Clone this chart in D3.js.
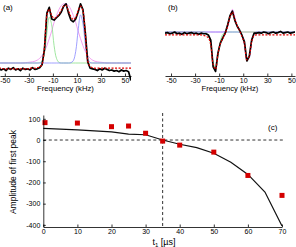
<!DOCTYPE html>
<html>
<head>
<meta charset="utf-8">
<script src="https://cdn.jsdelivr.net/npm/d3@7"></script>
<style>
body{margin:0;background:#fff;}
svg{display:block;font-family:"Liberation Sans",Arial,sans-serif;}
</style>
</head>
<body>
<script>
// frequency grid (kHz) shared by spectra (a) and (b)
var freqs = [-55,-53,-51,-49,-47,-45,-43,-41,-39,-37,-35,-33,-31,-29,-27,-25,-23,-21,
	-19,-17,-15,-13,-11,-9,-7,-5,-3,-1,1,3,5,7,9,11,13,15,17,19,21,23,
	25,27,29,31,33,35,37,39,41,43,45,47,49,51,53,55];
var freqTicks = [-50,-30,-10,10,30,50];

// panel (a)
var aData = [-0.09,-0.12,-0.10,-0.13,-0.09,-0.11,-0.08,-0.12,-0.10,-0.13,-0.09,-0.11,-0.10,-0.12,-0.08,-0.11,-0.10,-0.08,
	-0.03,0.24,0.86,0.96,0.76,0.74,0.78,0.82,0.88,0.98,1.02,0.86,0.74,0.71,0.76,0.88,1.02,0.92,0.52,0.02,-0.09,-0.10,
	-0.11,-0.13,-0.10,-0.12,-0.09,-0.11,-0.13,-0.12,-0.14,-0.13,-0.15,-0.12,-0.14,-0.13,-0.15,-0.30];
var aFit = [-0.09,-0.09,-0.10,-0.10,-0.10,-0.10,-0.10,-0.10,-0.10,-0.10,-0.10,-0.10,-0.10,-0.09,-0.09,-0.09,-0.08,-0.07,
	-0.02,0.28,0.82,0.93,0.82,0.77,0.79,0.84,0.91,0.98,0.99,0.90,0.80,0.75,0.79,0.90,0.98,0.90,0.50,0.04,-0.06,-0.08,
	-0.09,-0.09,-0.09,-0.09,-0.09,-0.09,-0.09,-0.09,-0.09,-0.09,-0.09,-0.09,-0.09,-0.09,-0.09,-0.09];
var aGreen = [0,0,0,0,0,0,0,0,0,0,0,0,0,0,0,0,0,0.005,
	0.03,0.17,0.52,0.79,0.66,0.30,0.08,0.01,0,0,0,0,0,0,0,0,0,0,0,0,0,0,
	0,0,0,0,0,0,0,0,0,0,0,0,0,0,0,0];
var aMagenta = [0,0,0,0,0,0,0,0,0,0,0,0.005,0.01,0.015,0.02,0.03,0.05,0.08,
	0.13,0.20,0.30,0.42,0.55,0.70,0.82,0.92,0.99,1.02,1.02,0.99,0.92,0.82,0.70,0.55,0.42,0.30,0.20,0.13,0.08,0.05,
	0.03,0.02,0.015,0.01,0.005,0,0,0,0,0,0,0,0,0,0,0];
var aBlue = [0,0,0,0,0,0,0,0,0,0,0,0,0,0,0,0,0,0,
	0,0,0,0,0,0,0,0,0,0,0,0,0.005,0.04,0.20,0.56,0.83,0.68,0.32,0.08,0.01,0,
	0,0,0,0,0,0,0,0,0,0,0,0,0,0,0,0];

// panel (b)
var bData = [-0.02,-0.01,-0.03,-0.02,0.00,-0.03,-0.02,-0.04,-0.01,-0.03,-0.02,-0.01,-0.03,-0.02,-0.04,-0.02,-0.03,-0.03,
	-0.05,-0.14,-0.60,-0.68,-0.36,-0.19,-0.10,-0.02,0.12,0.28,0.36,0.20,0.10,0.03,-0.06,-0.17,-0.50,-0.42,-0.14,-0.02,-0.02,-0.01,
	-0.02,0.00,-0.01,-0.03,-0.01,0.00,-0.02,-0.01,0.01,-0.02,-0.01,0.00,-0.02,-0.01,0.00,-0.01];
var bFit = [-0.05,-0.05,-0.05,-0.05,-0.05,-0.05,-0.05,-0.05,-0.05,-0.05,-0.05,-0.05,-0.05,-0.05,-0.05,-0.05,-0.06,-0.07,
	-0.10,-0.22,-0.56,-0.64,-0.38,-0.20,-0.11,-0.03,0.10,0.26,0.34,0.22,0.11,0.02,-0.08,-0.20,-0.48,-0.42,-0.17,-0.06,-0.05,-0.05,
	-0.05,-0.05,-0.05,-0.05,-0.05,-0.05,-0.05,-0.05,-0.05,-0.05,-0.05,-0.05,-0.05,-0.05,-0.05,-0.05];
var bGreen = [0,0,0,0,0,0,0,0,0,0,0,0,0,0,0,0,0,-0.01,
	-0.05,-0.22,-0.52,-0.62,-0.42,-0.16,-0.04,-0.01,0,0,0,0,0,0,0,0,0,0,0,0,0,0,
	0,0,0,0,0,0,0,0,0,0,0,0,0,0,0,0];
var bMagenta = [0,0,0,0,0,0,0,0,0,0,0,0,0,0,0,0,0,0,
	0,0,0,0,0,0,0,0.01,0.08,0.26,0.39,0.26,0.10,0.02,0,0,0,0,0,0,0,0,
	0,0,0,0,0,0,0,0,0,0,0,0,0,0,0,0];
var bBlue = [0,0,0,0,0,0,0,0,0,0,0,0,0,0,0,0,0,0,
	0,0,0,0,0,0,0,0,0,0,0,0,0,-0.01,-0.06,-0.22,-0.48,-0.44,-0.16,-0.03,0,0,
	0,0,0,0,0,0,0,0,0,0,0,0,0,0,0,0];

// panel (c)
var t1 = [0.5,10,20,25,30,35,40,50,60,70];
var amp = [82,80,63,66,32,-5,-24,-57,-167,-261];
var fitT = [0,10,20,25,30,35,40,45,50,55,60,65,70];
var fitAmp = [55,48,38,28,25,0,-20,-36,-62,-105,-162,-245,-405];
var tTicks = [0,10,20,30,40,50,60,70];
var ampTicks = [100,0,-100,-200,-300,-400];

var svg = d3.select("body").append("svg").attr("width",296).attr("height",247);

function spectrum(cfg){
	var x = d3.scaleLinear().domain(cfg.xdom).range(cfg.xr);
	var y = d3.scaleLinear().domain([0,1]).range(cfg.yr);
	var g = svg.append("g");
	var clipId = "clip" + cfg.name;
	svg.append("clipPath").attr("id",clipId).append("rect")
		.attr("x",cfg.xr[0]).attr("y",0).attr("width",cfg.xr[1]-cfg.xr[0]).attr("height",90);
	var plot = g.append("g").attr("clip-path","url(#"+clipId+")");
	var smooth = d3.line().x(function(d,i){return x(freqs[i]);}).y(function(d){return y(d);}).curve(d3.curveCatmullRom);
	var raw = d3.line().x(function(d,i){return x(freqs[i]);}).y(function(d){return y(d);});
	plot.append("path").attr("d",smooth(cfg.magenta)).attr("fill","none").attr("stroke","#ee88ee").attr("stroke-width",0.8);
	plot.append("path").attr("d",smooth(cfg.green)).attr("fill","none").attr("stroke","#88e088").attr("stroke-width",0.8);
	plot.append("path").attr("d",smooth(cfg.blue)).attr("fill","none").attr("stroke","#8888ff").attr("stroke-width",0.8);
	plot.append("path").attr("d",raw(cfg.data)).attr("fill","none").attr("stroke","#000").attr("stroke-width",1.7)
		.attr("stroke-linejoin","round");
	plot.append("path").attr("d",smooth(cfg.fit)).attr("fill","none").attr("stroke","#e00000")
		.attr("stroke-width",1.2).attr("stroke-dasharray","2,1.5");

	var ax = g.append("g").attr("transform","translate(0,76)")
		.call(d3.axisBottom(x).tickValues(freqTicks).tickFormat(function(d){return String(d);})
			.tickSizeInner(-2.5).tickSizeOuter(0).tickPadding(2));
	ax.select(".domain").attr("stroke-width",0.8);
	ax.selectAll(".tick line").attr("stroke-width",0.8);
	ax.selectAll("text").attr("font-size",7).attr("font-family","Liberation Sans, Arial, sans-serif");
	g.append("text").attr("x",(cfg.xr[0]+cfg.xr[1])/2).attr("y",91).attr("text-anchor","middle")
		.attr("font-size",7.7).text("Frequency (kHz)");
	g.append("text").attr("x",cfg.labelX).attr("y",10).attr("font-size",8).text(cfg.label);
}

spectrum({name:"a",xdom:[-54,55],xr:[0,131],yr:[63,5],data:aData,fit:aFit,green:aGreen,magenta:aMagenta,blue:aBlue,label:"(a)",labelX:3});
spectrum({name:"b",xdom:[-55,53],xr:[165,295],yr:[32,-26],data:bData,fit:bFit,green:bGreen,magenta:bMagenta,blue:bBlue,label:"(b)",labelX:168});

// panel (c)
var xC = d3.scaleLinear().domain([0,70]).range([43.3,282]);
var yC = d3.scaleLinear().domain([-410,118]).range([227,115]);
var gc = svg.append("g");

gc.append("line").attr("x1",xC(0)).attr("x2",xC(70)+3).attr("y1",yC(0)).attr("y2",yC(0))
	.attr("stroke","#333").attr("stroke-width",1).attr("stroke-dasharray","3,2.5");
gc.append("line").attr("x1",xC(35)).attr("x2",xC(35)).attr("y1",yC(118)-2).attr("y2",yC(-410))
	.attr("stroke","#333").attr("stroke-width",1).attr("stroke-dasharray","3,2.5");

var fitLine = d3.line().x(function(d,i){return xC(fitT[i]);}).y(function(d){return yC(d);});
gc.append("path").attr("d",fitLine(fitAmp)).attr("fill","none").attr("stroke","#111").attr("stroke-width",1.2);

gc.selectAll("rect.pt").data(amp).enter().append("rect").attr("class","pt")
	.attr("x",function(d,i){return xC(t1[i])-2.5;}).attr("y",function(d){return yC(d)-2.5;})
	.attr("width",5).attr("height",5).attr("fill","#d40000");

var axB = gc.append("g").attr("transform","translate(0,"+yC(-410)+")")
	.call(d3.axisBottom(xC).tickValues(tTicks).tickSizeInner(-2.5).tickSizeOuter(0).tickPadding(2));
var axL = gc.append("g").attr("transform","translate("+xC(0)+",0)")
	.call(d3.axisLeft(yC).tickValues(ampTicks).tickFormat(function(d){return String(d);})
		.tickSizeInner(-2.5).tickSizeOuter(0).tickPadding(3));
[axB,axL].forEach(function(a){
	a.select(".domain").attr("stroke-width",0.8);
	a.selectAll(".tick line").attr("stroke-width",0.8);
	a.selectAll("text").attr("font-size",7).attr("font-family","Liberation Sans, Arial, sans-serif");
});

var xl = gc.append("text").attr("x",164).attr("y",245).attr("text-anchor","middle").attr("font-size",9);
xl.append("tspan").text("t");
xl.append("tspan").attr("font-size",6).attr("dy",2).text("1");
xl.append("tspan").attr("dy",-2).text(" [\u00b5s]");
gc.append("text").attr("transform","translate(16,172) rotate(-90)").attr("text-anchor","middle")
	.attr("font-size",8.5).text("Amplitude of first peak");
gc.append("text").attr("x",268).attr("y",130).attr("font-size",8).text("(c)");
</script>
</body>
</html>
